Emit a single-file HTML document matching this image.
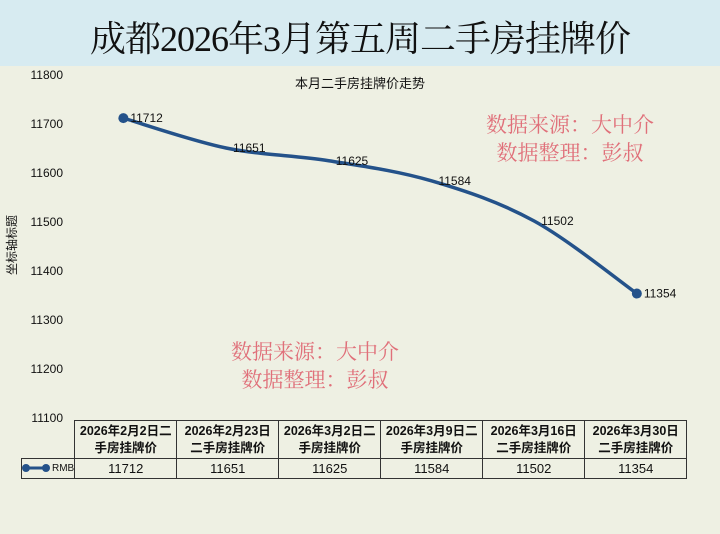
<!DOCTYPE html>
<html><head><meta charset="utf-8"><style>
body{margin:0;width:720px;height:534px;overflow:hidden;background:#eef0e3;font-family:"Liberation Sans","Noto Sans CJK SC",sans-serif;position:relative}
.title{position:absolute;left:0;top:0;width:720px;height:66px;background:#d7ebf1;text-align:center;font:36px/78px "Liberation Serif","Noto Serif CJK SC",serif;color:#111;letter-spacing:-1px}
.wm{position:absolute;color:#e0707a;font:21px/28px "Liberation Serif","Noto Serif CJK SC",serif;text-align:center}
table{position:absolute;left:21px;top:420px;border-collapse:collapse;font-size:12px;color:#111}
td{border:1px solid #333;text-align:center;padding:0}
</style></head><body>
<div class="title">成都2026年3月第五周二手房挂牌价</div>
<svg id="c" width="720" height="534" style="position:absolute;left:0;top:0">
<text x="360" y="88" font-size="13" text-anchor="middle" fill="#111">本月二手房挂牌价走势</text>
<text transform="translate(16,245) rotate(-90)" font-size="12" text-anchor="middle" fill="#111">坐标轴标题</text>
</svg>
<div class="wm" style="left:470px;top:111px;width:200px">数据来源：大中介<br>数据整理：彭叔</div>
<div class="wm" style="left:215px;top:338px;width:200px">数据来源：大中介<br>数据整理：彭叔</div>
<table id="t"></table>
<script>
const categories=["2026年2月2日二手房挂牌价","2026年2月23日二手房挂牌价","2026年3月2日二手房挂牌价","2026年3月9日二手房挂牌价","2026年3月16日二手房挂牌价","2026年3月30日二手房挂牌价"];
const values=[11712,11651,11625,11584,11502,11354];
const ticks=[11800,11700,11600,11500,11400,11300,11200,11100];
const ns="http://www.w3.org/2000/svg",svg=document.getElementById('c');
const y=v=>75+(11800-v)*343/700;
const x=i=>72+102.7*(i+0.5);
function mk(t,a){const e=document.createElementNS(ns,t);for(const k in a)e.setAttribute(k,a[k]);svg.appendChild(e);return e;}
ticks.forEach(t=>{const e=mk('text',{x:63,y:y(t)+4,'font-size':12,'text-anchor':'end',fill:'#111'});e.textContent=t;

});
const P=values.map((v,i)=>[x(i),y(v)]);
let d=`M${P[0][0]},${P[0][1]}`;
for(let i=0;i<P.length-1;i++){const p0=P[Math.max(i-1,0)],p1=P[i],p2=P[i+1],p3=P[Math.min(i+2,P.length-1)];
d+=` C${p1[0]+(p2[0]-p0[0])/6},${p1[1]+(p2[1]-p0[1])/6} ${p2[0]-(p3[0]-p1[0])/6},${p2[1]-(p3[1]-p1[1])/6} ${p2[0]},${p2[1]}`;}
const ln=mk('path',{d:d,fill:'none',stroke:'#24528a','stroke-width':3.5});


values.forEach((v,i)=>{
if(i==0||i==values.length-1){const c=mk('circle',{cx:P[i][0],cy:P[i][1],r:5,fill:'#24528a'});

}
const t=mk('text',{x:P[i][0]+7,y:P[i][1]+4,'font-size':12,fill:'#111'});t.textContent=v;

});
const tb=document.getElementById('t');
let h='<tr style="height:38px"><td style="width:50px;border-top:none;border-left:none"></td>';
categories.forEach(c=>{const k=c.indexOf('日')+1;const n=k<10?k+1:k;
h+=`<td style="width:101px;font-weight:bold;font-size:12.5px;line-height:17px">${c.slice(0,n)}<br>${c.slice(n)}</td>`;});
h+='</tr><tr style="height:20px"><td style="text-align:right;font-size:10px;white-space:nowrap"><svg width="30" height="10" style="vertical-align:middle"><line x1="4" y1="5" x2="24" y2="5" stroke="#24528a" stroke-width="3"/><circle cx="4" cy="5" r="4" fill="#24528a"/><circle cx="24" cy="5" r="4" fill="#24528a"/></svg>RMB</td>';
values.forEach(v=>h+=`<td style="font-size:13px">${v}</td>`);h+='</tr>';
tb.innerHTML=h;
</script>
</body></html>
